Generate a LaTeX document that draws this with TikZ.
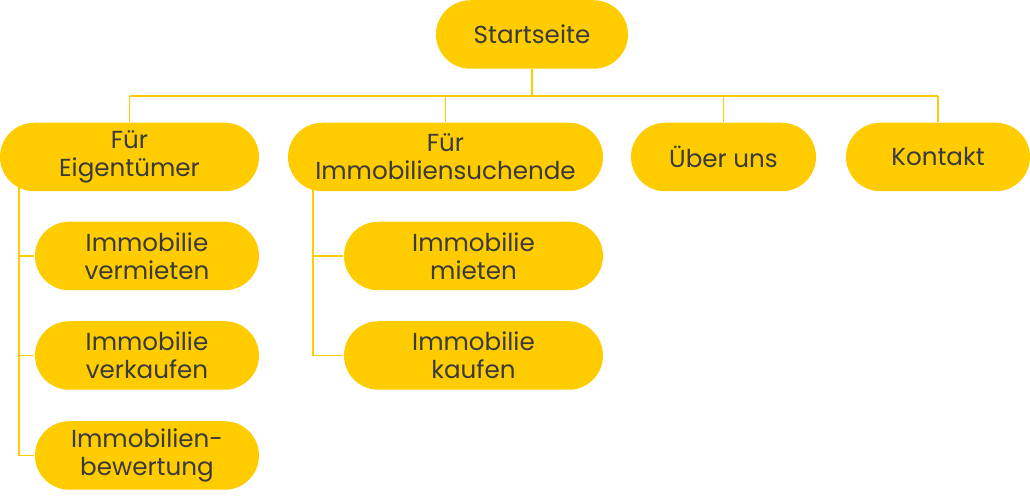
\documentclass[tikz,border=0pt]{standalone}
\usepackage{fontspec}
\setmainfont{Poppins}
\usetikzlibrary{shapes.misc,backgrounds}
\definecolor{gelb}{HTML}{FFCC00}
\definecolor{schrift}{HTML}{3A3A3A}

\begin{document}
\begin{tikzpicture}[
     % define styles
     page/.style={
         rounded rectangle,
         fill=gelb,
         text=schrift,
         inner sep=0pt,
         minimum height=0.685cm,
         align=center,
         font=\fontsize{7}{8}\selectfont
     },
     link/.style={
         draw=gelb,
         line width=0.45pt
     }
]
\useasboundingbox (0,0) rectangle (10.30,5.00);

% top level
\node[page, minimum width=1.92cm] (start) at (5.32,4.655) {Startseite};

% second level
\node[page, minimum width=2.59cm] (eigen)   at (1.295,3.43) {Für\\Eigentümer};
\node[page, minimum width=3.15cm] (suchend) at (4.455,3.43) {Für\\Immobiliensuchende};
\node[page, minimum width=1.85cm] (ueber)   at (7.235,3.43) {Über uns};
\node[page, minimum width=1.84cm] (kontakt) at (9.38,3.43)  {Kontakt};

% owners
\node[page, minimum width=2.24cm] (vermieten) at (1.47,2.44)  {Immobilie\\vermieten};
\node[page, minimum width=2.24cm] (verkaufen) at (1.47,1.445) {Immobilie\\verkaufen};
\node[page, minimum width=2.24cm] (bewertung) at (1.47,0.445) {Immobilien-\\bewertung};

% seekers
\node[page, minimum width=2.59cm] (mieten) at (4.735,2.44)  {Immobilie\\mieten};
\node[page, minimum width=2.59cm] (kaufen) at (4.735,1.445) {Immobilie\\kaufen};

% connectors
\coordinate (bar)  at (5.32,4.04);
\coordinate (ast1) at (0.19,3.43);
\coordinate (ast2) at (3.13,3.43);
\begin{scope}[on background layer]
\draw[link] (start.south) -- (bar);
\draw[link] (eigen.north |- bar) -- (kontakt.north |- bar);
\foreach \n in {eigen,suchend,ueber,kontakt}
    \draw[link] (\n.north |- bar) -- (\n.north);
\draw[link] (ast1) |- (bewertung.west);
\draw[link] (ast1 |- verkaufen) -- (verkaufen.west);
\draw[link] (ast1 |- vermieten) -- (vermieten.west);
\draw[link] (ast2) |- (kaufen.west);
\draw[link] (ast2 |- mieten) -- (mieten.west);
\end{scope}
\end{tikzpicture}
\end{document}
